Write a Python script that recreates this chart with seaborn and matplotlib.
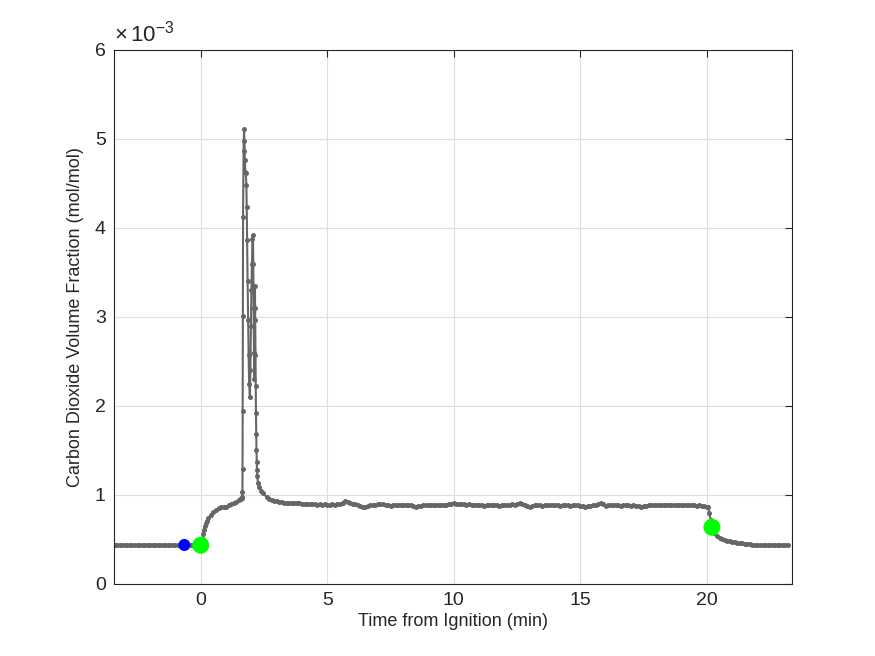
import matplotlib
matplotlib.use("Agg")
import matplotlib.pyplot as plt
import numpy as np
import pandas as pd
import seaborn as sns

# ========================================================================
# DATA (CO2 volume fraction in units of 1e-3 mol/mol, time in minutes)
# ========================================================================
# baseline before ignition, sampled every 0.1 min from -3.4
base_start = -3.4
base_vals = [0.435, 0.435, 0.435, 0.435, 0.435, 0.435, 0.435, 0.435, 0.435, 0.435,
             0.435, 0.435, 0.435, 0.435, 0.435, 0.435, 0.435, 0.435, 0.435, 0.435,
             0.435, 0.435, 0.435, 0.435, 0.435, 0.435, 0.435, 0.435, 0.435, 0.435,
             0.435, 0.435, 0.435, 0.435, 0.435]

# ignition rise and the spike (irregular, read point by point)
spike_t = [0.05, 0.08, 0.10, 0.12, 0.16, 0.20, 0.25, 0.30, 0.40, 0.50, 0.60, 0.70,
           0.80, 0.90, 1.00, 1.10, 1.20, 1.30, 1.40, 1.50, 1.56, 1.60, 1.62, 1.635,
           1.645, 1.650, 1.655, 1.660, 1.670, 1.690, 1.710, 1.725, 1.740, 1.760,
           1.780, 1.800, 1.815, 1.830, 1.850, 1.870, 1.890, 1.910, 1.940, 1.960,
           1.980, 2.000, 2.020, 2.040, 2.060, 2.075, 2.090, 2.100, 2.110, 2.120,
           2.130, 2.140, 2.150, 2.160, 2.170, 2.180, 2.190, 2.200, 2.210, 2.220,
           2.235, 2.260, 2.310, 2.380, 2.470, 2.600, 2.700, 2.800, 2.900]
spike_vals = [0.44, 0.50, 0.56, 0.61, 0.65, 0.68, 0.71, 0.74, 0.78, 0.81, 0.83, 0.85,
              0.86, 0.865, 0.87, 0.885, 0.90, 0.91, 0.925, 0.94, 0.95, 0.96, 0.97, 0.98,
              1.03, 1.29, 1.94, 3.01, 4.12, 4.87, 5.11, 4.98, 4.76, 4.63,
              4.62, 4.48, 4.24, 3.86, 3.40, 2.97, 2.57, 2.25, 2.10, 2.40,
              2.90, 3.30, 3.60, 3.88, 3.92, 3.60, 3.10, 2.60, 2.30, 2.60,
              3.10, 3.35, 2.97, 2.57, 2.22, 1.92, 1.69, 1.51, 1.37, 1.28,
              1.21, 1.13, 1.09, 1.05, 1.02, 0.975, 0.955, 0.944, 0.935]

# steady burning plateau, sampled every 0.1 min from 3.0 to 20.0
plateau_start = 3.0
plateau_vals = [
    0.93, 0.92, 0.92, 0.915, 0.915, 0.91, 0.91, 0.905, 0.91, 0.905,
    0.90, 0.90, 0.895, 0.90, 0.895, 0.90, 0.89, 0.895, 0.89, 0.895,
    0.89, 0.89, 0.895, 0.89, 0.895, 0.90, 0.915, 0.93, 0.92, 0.905,
    0.90, 0.895, 0.885, 0.875, 0.865, 0.86, 0.875, 0.885, 0.89, 0.89,
    0.895, 0.90, 0.895, 0.89, 0.885, 0.88, 0.885, 0.89, 0.89, 0.885,
    0.89, 0.885, 0.89, 0.885, 0.88, 0.87, 0.875, 0.88, 0.885, 0.89,
    0.89, 0.885, 0.89, 0.885, 0.89, 0.89, 0.885, 0.89, 0.895, 0.90,
    0.905, 0.90, 0.895, 0.90, 0.895, 0.89, 0.895, 0.89, 0.885, 0.89,
    0.89, 0.885, 0.88, 0.885, 0.89, 0.885, 0.89, 0.885, 0.88, 0.885,
    0.89, 0.885, 0.89, 0.895, 0.89, 0.90, 0.905, 0.895, 0.885, 0.875,
    0.87, 0.875, 0.885, 0.89, 0.885, 0.88, 0.885, 0.89, 0.885, 0.885,
    0.89, 0.885, 0.88, 0.885, 0.89, 0.885, 0.88, 0.885, 0.89, 0.885,
    0.88, 0.875, 0.87, 0.875, 0.88, 0.885, 0.89, 0.90, 0.91, 0.895,
    0.88, 0.885, 0.89, 0.885, 0.89, 0.885, 0.88, 0.885, 0.89, 0.885,
    0.88, 0.885, 0.88, 0.875, 0.87, 0.875, 0.88, 0.885, 0.89, 0.885,
    0.885, 0.89, 0.885, 0.89, 0.885, 0.89, 0.885, 0.89, 0.885, 0.885,
    0.89, 0.885, 0.885, 0.89, 0.885, 0.885, 0.88, 0.885, 0.88, 0.875,
    0.87]

# extinction drop and tail
tail_t = [20.05, 20.10, 20.15, 20.20, 20.25, 20.30, 20.40, 20.50, 20.60, 20.70,
          20.80, 20.90, 21.00, 21.10, 21.20, 21.30, 21.40, 21.50, 21.60, 21.70,
          21.80, 21.90, 22.00, 22.10, 22.20, 22.30, 22.40, 22.50, 22.60, 22.70,
          22.80, 22.90, 23.00, 23.10, 23.20]
tail_vals = [0.86, 0.80, 0.72, 0.64, 0.60, 0.57, 0.535, 0.515, 0.50, 0.492,
             0.485, 0.48, 0.475, 0.47, 0.465, 0.46, 0.455, 0.45, 0.447, 0.444,
             0.441, 0.44, 0.439, 0.438, 0.438, 0.437, 0.437, 0.437, 0.437, 0.437,
             0.437, 0.437, 0.437, 0.437, 0.437]

# event markers
blue_t, blue_v = [-0.65], [0.438]
green_t, green_v = [0.0, 20.2], [0.435, 0.637]

# ========================================================================
# BUILD ONE SERIES
# ========================================================================
base_t = list(np.round(base_start + 0.1 * np.arange(len(base_vals)), 3))
plateau_t = list(np.round(plateau_start + 0.1 * np.arange(len(plateau_vals)), 3))
df = pd.DataFrame({
    "t": [-3.43] + base_t + [0.0] + spike_t + plateau_t + tail_t,
    "v": [0.435] + base_vals + [0.435] + spike_vals + plateau_vals + tail_vals,
})

# ========================================================================
# FIGURE
# ========================================================================
sns.set_style("white")
plt.rcParams["font.family"] = ["Liberation Sans", "DejaVu Sans"]
plt.rcParams["mathtext.fontset"] = "custom"
plt.rcParams["mathtext.rm"] = "Liberation Sans"
plt.rcParams["mathtext.it"] = "Liberation Sans"

fig = plt.figure(figsize=(8.75, 6.56), dpi=100)
ax = fig.add_axes([0.1303, 0.1098, 0.7750, 0.8140])

line_col = "#666666"
sns.lineplot(data=df, x="t", y="v", ax=ax, color=line_col, linewidth=1.5,
             marker="o", markersize=3.6, markeredgewidth=0, sort=False,
             estimator=None)
sns.scatterplot(x=blue_t, y=blue_v, ax=ax, color="#0000ff", s=75,
                edgecolor="none", zorder=5)
sns.scatterplot(x=green_t, y=green_v, ax=ax, color="#00ff00", s=150,
                edgecolor="none", zorder=5)

# AXES
ax.set_xlim(-3.43, 23.37)
ax.set_ylim(0, 6)
ax.set_xticks([0, 5, 10, 15, 20])
ax.set_yticks([0, 1, 2, 3, 4, 5, 6])
ax.grid(True, color="#dfdfdf", linewidth=0.8)
ax.set_axisbelow(True)
for s in ax.spines.values():
    s.set_color("#262626")
    s.set_linewidth(0.8)
ax.tick_params(direction="in", top=True, right=True, length=5, width=0.8,
               colors="#262626", labelsize=14, pad=6)
ax.set_xlabel("Time from Ignition (min)", fontsize=13, color="#262626", labelpad=3)
ax.set_ylabel("Carbon Dioxide Volume Fraction (mol/mol)", fontsize=13,
              color="#262626", labelpad=8)
ax.text(0.0, 1.006, r"$\times\,10^{-3}$", transform=ax.transAxes, fontsize=16,
        color="#262626", ha="left", va="bottom")

plt.savefig("out.png", dpi=100, facecolor="white")
